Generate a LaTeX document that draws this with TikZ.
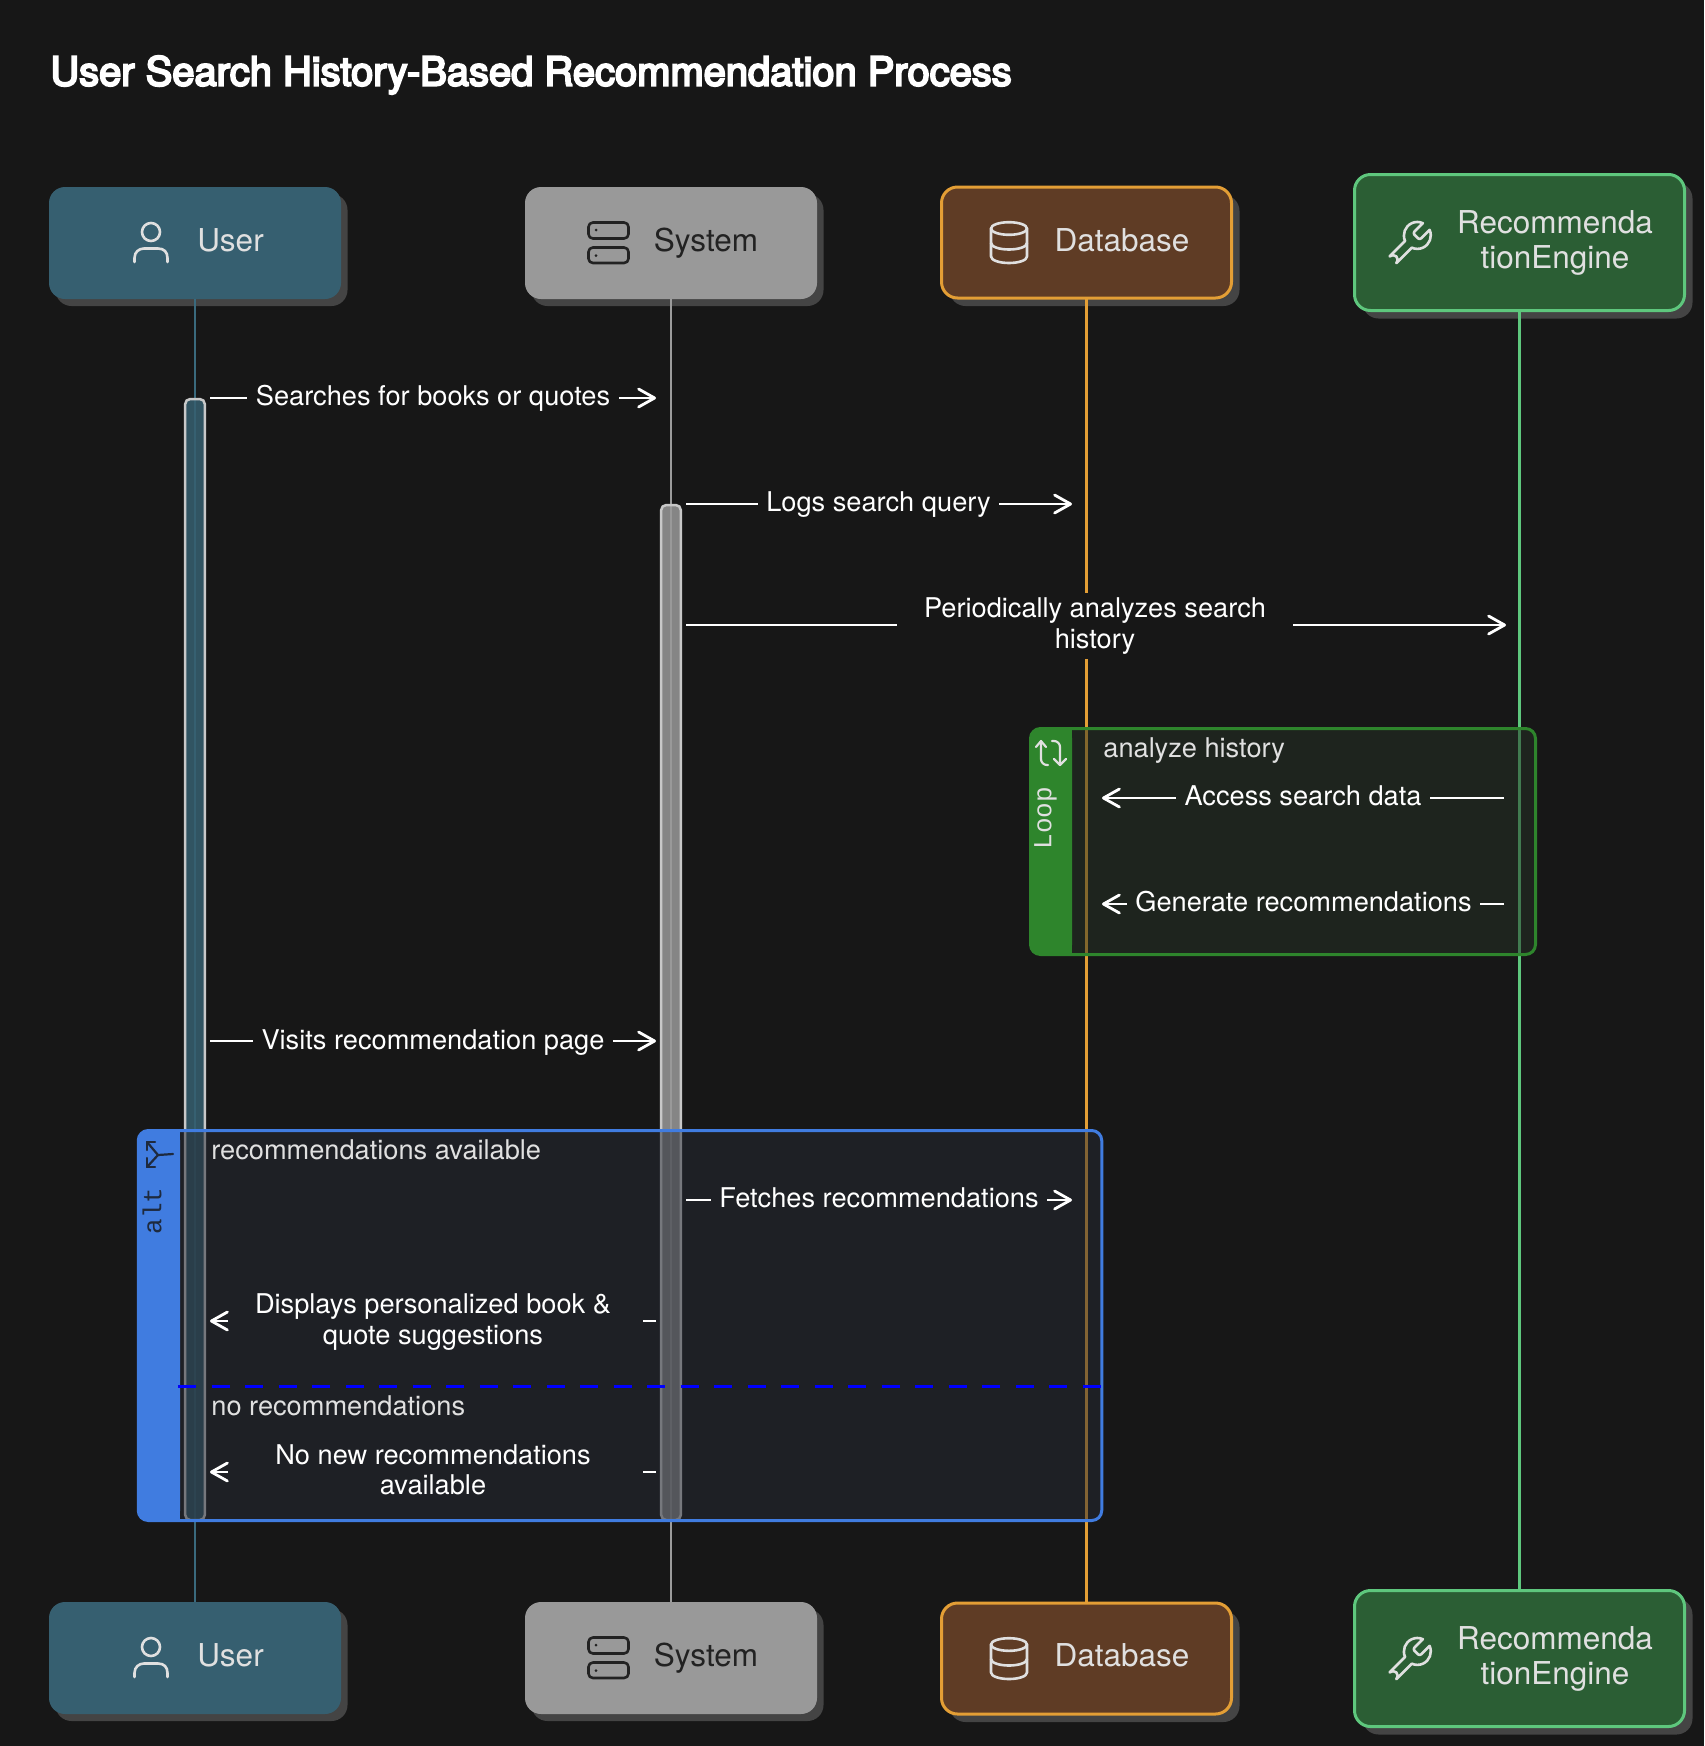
\documentclass[tikz,border=0pt]{standalone}
\usepackage{fontspec}
\setmainfont{TeX Gyre Heros}
\newfontfamily\monof{Liberation Mono}
\newfontfamily\titlef[FakeBold=5]{TeX Gyre Heros}
\usetikzlibrary{arrows.meta,shadows,svg.path}
\definecolor{bgc}{HTML}{171717}
\definecolor{shadowc}{HTML}{444444}
\definecolor{userc}{HTML}{365F70}
\definecolor{userl}{HTML}{3A6A7D}
\definecolor{sysc}{HTML}{999999}
\definecolor{sysl}{HTML}{9C9C9C}
\definecolor{dbc}{HTML}{5F3C25}
\definecolor{dbl}{HTML}{E39E35}
\definecolor{recc}{HTML}{2B5E34}
\definecolor{recl}{HTML}{5EC77D}
\definecolor{lightt}{HTML}{E0E0E0}
\definecolor{darkt}{HTML}{222222}
\definecolor{loopc}{HTML}{2E852C}
\definecolor{loopf}{HTML}{253125}
\definecolor{altc}{HTML}{407CE0}
\definecolor{altf}{HTML}{252933}
\definecolor{alticon}{HTML}{1E2A3E}
\definecolor{actl}{HTML}{C8C8C8}
\tikzset{
  actor/.style={rectangle,rounded corners=8pt,outer sep=0pt,inner sep=0pt},
  userbox/.style={actor,fill=userc,minimum width=146pt,minimum height=56pt,
    general shadow={fill=shadowc,shadow xshift=3.25pt,shadow yshift=-3.5pt}},
  sysbox/.style={actor,fill=sysc,minimum width=146pt,minimum height=56pt,
    general shadow={fill=shadowc,shadow xshift=3.25pt,shadow yshift=-3.5pt}},
  dbbox/.style={actor,fill=dbc,draw=dbl,line width=1.5pt,minimum width=145pt,minimum height=55.5pt,
    general shadow={fill=shadowc,shadow xshift=4pt,shadow yshift=-4pt}},
  recbox/.style={actor,fill=recc,draw=recl,line width=1.5pt,minimum width=165pt,minimum height=68pt,
    general shadow={fill=shadowc,shadow xshift=4pt,shadow yshift=-4pt}},
  actname/.style={inner sep=0pt,align=center,font=\fontsize{15.75}{17.5}\selectfont},
  onename/.style={actname,text height=11pt,text depth=0pt},
  life/.style={line width=1pt},
  act/.style={rectangle,rounded corners=2.5pt,draw=actl,line width=1.25pt,fill opacity=.85,outer sep=0pt,inner sep=0pt,minimum width=9.8pt},
  frameb/.style={rectangle,rounded corners=5pt,line width=1.5pt,fill opacity=.5,outer sep=0pt,inner sep=0pt},
  msgl/.style={inner sep=0pt,outer sep=0pt,align=center,text=white,font=\fontsize{13.6}{15.25}\selectfont},
  msgone/.style={msgl,text height=10pt,text depth=3pt},
  framet/.style={inner sep=0pt,anchor=west,text=lightt,text height=10pt,text depth=3pt,font=\fontsize{13.6}{15.25}\selectfont},
  flow/.style={draw=white,line width=1.4pt},
  flowh/.style={flow,-{Straight Barb[length=8pt,width=9pt,line width=1.4pt,round]}},
  icons/.style={line width=1.3pt,line cap=round,line join=round},
  frtag/.style={inner sep=0pt,rotate=90,font=\fontsize{13}{14}\monof},
  divider/.style={draw=blue,line width=1.5pt,dash pattern=on 9pt off 7.75pt}
}
\newcommand{\iconUser}{%
  \draw[icons,draw=lightt] (151,232) circle (9);
  \draw[icons,draw=lightt] (134.5,262) -- (134.5,258) .. controls (134.5,252) and (139,248.5) .. (144,248.5) -- (158,248.5) .. controls (164,248.5) and (167.5,252) .. (167.5,258) -- (167.5,262);
}
\newcommand{\iconServer}{%
  \draw[icons,draw=darkt,rounded corners=2.2pt] (588.5,222.5) rectangle (628.5,238.5);
  \draw[icons,draw=darkt,rounded corners=2.2pt] (588.5,247.5) rectangle (628.5,263);
  \fill[darkt] (596,230) circle (1.5);
  \fill[darkt] (596,255.5) circle (1.5);
}
\newcommand{\iconDb}{%
  \draw[icons,draw=lightt] (1009,228.5) ellipse [x radius=18,y radius=6.3];
  \draw[icons,draw=lightt] (991,228.5) -- (991,256.5) .. controls (991,260.5) and (1000,263) .. (1009,263) .. controls (1018,263) and (1027,260.5) .. (1027,256.5) -- (1027,228.5);
  \draw[icons,draw=lightt] (991,243) .. controls (991,247) and (1000,249.5) .. (1009,249.5) .. controls (1018,249.5) and (1027,247) .. (1027,243);
}
\newcommand{\iconWrench}{%
  \begin{scope}[shift={(1381.5,217.5)},xscale=1.12,yscale=-1.12]
  \draw[icons,draw=lightt] svg {M 14.7 6.3 a 1 1 0 0 0 0 1.4 l 1.6 1.6 a 1 1 0 0 0 1.4 0 l 3.77 -3.77 a 6 6 0 0 1 -7.94 7.94 l -6.91 6.91 a 2.12 2.12 0 0 1 -3 -3 l 6.91 -6.91 a 6 6 0 0 1 7.94 -7.94 l -3.76 3.76 z};
  \end{scope}
}
\begin{document}
\begin{tikzpicture}[x=0.5pt,y=-0.5pt]
\useasboundingbox (0,0) rectangle (1704,1746);
\fill[bgc] (0,0) rectangle (1704,1746);
\node[inner sep=0pt,anchor=west,text=white,font=\fontsize{19.95}{22}\titlef] (title) at (50,75) {User Search History-Based Recommendation Process};
% actors
\node[userbox] (userT) at (195,243) {};
\node[sysbox] (sysT) at (671,243) {};
\node[dbbox] (dbT) at (1086.5,242.5) {};
\node[recbox] (recT) at (1519.5,242.5) {};
\node[userbox] (userB) at (195,1658) {};
\node[sysbox] (sysB) at (671,1658) {};
\node[dbbox] (dbB) at (1086.5,1658.5) {};
\node[recbox] (recB) at (1519.5,1658.5) {};
% lifelines
\draw[life,draw=userl] (userT) -- (userB);
\draw[life,draw=sysl] (sysT) -- (sysB);
\draw[life,draw=dbl,line width=1.25pt] (dbT) -- (dbB);
\draw[life,draw=recl,line width=1.25pt] (recT) -- (recB);
% activations
\node[act,fill=userc,minimum height=560.5pt] (userA) at (195,959.5) {};
\node[act,fill=sysc,minimum height=507.5pt] (sysA) at (671,1012.5) {};
% frames
\node[frameb,fill=loopf,draw=loopc,minimum width=252.5pt,minimum height=113pt] (loopF) at (1283,841.5) {};
\fill[loopc,rounded corners=5pt] (1030,728) rectangle (1072,955);
\fill[loopc] (1050,728) rectangle (1072,955);
\node[frameb,fill=altf,draw=altc,minimum width=481.75pt,minimum height=195pt] (altF) at (620,1325.5) {};
\fill[altc,rounded corners=5pt] (138,1130) rectangle (180,1521);
\fill[altc] (160,1130) rectangle (180,1521);
% frame tags
\node[frtag,text=lightt] (loopT) at (1045.5,818) {Loop};
\node[frtag,text=alticon] (altT) at (152,1211) {alt};
\draw[icons,draw=lightt,line width=1.1pt,rounded corners=3pt] (1041,741) -- (1041,765) -- (1048,765);
\draw[icons,draw=lightt,line width=1.1pt] (1036,747) -- (1041,741) -- (1046,747);
\draw[icons,draw=lightt,line width=1.1pt,rounded corners=3pt] (1052,741) -- (1060,741) -- (1060,765);
\draw[icons,draw=lightt,line width=1.1pt] (1054,759) -- (1060,765) -- (1066,759);
\draw[icons,draw=alticon,line width=1.1pt] (155,1142) -- (147,1142) -- (147,1150);
\draw[icons,draw=alticon,line width=1.1pt] (147,1142) -- (158,1155) -- (173,1154);
\draw[icons,draw=alticon,line width=1.1pt] (147,1158) -- (147,1167) -- (155,1167);
\draw[icons,draw=alticon,line width=1.1pt] (147,1167) -- (158,1155);
% actor faces
\iconUser \iconServer \iconDb \iconWrench
\begin{scope}[shift={(0,1415)}] \iconUser \iconServer \end{scope}
\begin{scope}[shift={(0,1416)}] \iconDb \iconWrench \end{scope}
\node[onename,text=lightt] (userN) at (230.5,240) {User};
\node[onename,text=darkt] (sysN) at (706,240) {System};
\node[onename,text=lightt] (dbN) at (1122,240) {Database};
\node[actname,text=lightt] (recN) at (1555,243) {Recommenda\\tionEngine};
\node[onename,text=lightt] (userM) at (230.5,1655) {User};
\node[onename,text=darkt] (sysM) at (706,1655) {System};
\node[onename,text=lightt] (dbM) at (1122,1655) {Database};
\node[actname,text=lightt] (recM) at (1555,1659) {Recommenda\\tionEngine};
% frame titles
\node[framet] (loopL) at (1103,750) {analyze history};
\node[framet] (altL1) at (211,1152) {recommendations available};
\node[framet] (altL2) at (211,1408) {no recommendations};
% message ends
\coordinate (m1a) at (210,398); \coordinate (m1b) at (656,398);
\coordinate (m2a) at (686,504); \coordinate (m2b) at (1072,504);
\coordinate (m3a) at (686,625); \coordinate (m3b) at (1506,625);
\coordinate (m4a) at (1504,798); \coordinate (m4b) at (1102,798);
\coordinate (m5a) at (1504,904); \coordinate (m5b) at (1102,904);
\coordinate (m6a) at (210,1041); \coordinate (m6b) at (656,1041);
\coordinate (m7a) at (686,1200); \coordinate (m7b) at (1072,1200);
\coordinate (m8a) at (656,1321); \coordinate (m8b) at (210,1321); \coordinate (m8c) at (228,1321);
\coordinate (m9a) at (656,1472); \coordinate (m9b) at (210,1472); \coordinate (m9c) at (228,1472);
% message labels
\fill[bgc] (897,593) rectangle (1293,659);
\node[msgone,minimum width=186pt] (m1) at (433,398) {Searches for books or quotes};
\node[msgone,minimum width=120.5pt] (m2) at (878.5,504) {Logs search query};
\node[msgl,minimum width=198pt] (m3) at (1095,626) {Periodically analyzes search\\history};
\node[msgone,minimum width=127pt] (m4) at (1303,798) {Access search data};
\node[msgone,minimum width=176.5pt] (m5) at (1303.5,904) {Generate recommendations};
\node[msgone,minimum width=179.75pt] (m6) at (433,1042) {Visits recommendation page};
\node[msgone,minimum width=168pt] (m7) at (879,1200) {Fetches recommendations};
\node[msgl,minimum width=210pt] (m8) at (433,1322) {Displays personalized book \&\\quote suggestions};
\node[msgl,minimum width=210pt] (m9) at (433,1470) {No new recommendations\\available};
% messages
\draw[flow] (m1a) -- (m1.west |- m1a); \draw[flowh] (m1.east |- m1b) -- (m1b);
\draw[flow] (m2a) -- (m2.west |- m2a); \draw[flowh] (m2.east |- m2b) -- (m2b);
\draw[flow] (m3a) -- (m3.west |- m3a); \draw[flowh] (m3.east |- m3b) -- (m3b);
\draw[flow] (m4a) -- (m4.east |- m4a); \draw[flowh] (m4.west |- m4b) -- (m4b);
\draw[flow] (m5a) -- (m5.east |- m5a); \draw[flowh] (m5.west |- m5b) -- (m5b);
\draw[flow] (m6a) -- (m6.west |- m6a); \draw[flowh] (m6.east |- m6b) -- (m6b);
\draw[flow] (m7a) -- (m7.west |- m7a); \draw[flowh] (m7.east |- m7b) -- (m7b);
\draw[flow] (m8a) -- (m8.east |- m8a); \draw[flowh] (m8c) -- (m8b);
\draw[flow] (m9a) -- (m9.east |- m9a); \draw[flowh] (m9c) -- (m9b);
% divider
\coordinate (divA) at (178,1386); \coordinate (divB) at (1102,1386);
\draw[divider] (divA) -- (divB);
\end{tikzpicture}
\end{document}
